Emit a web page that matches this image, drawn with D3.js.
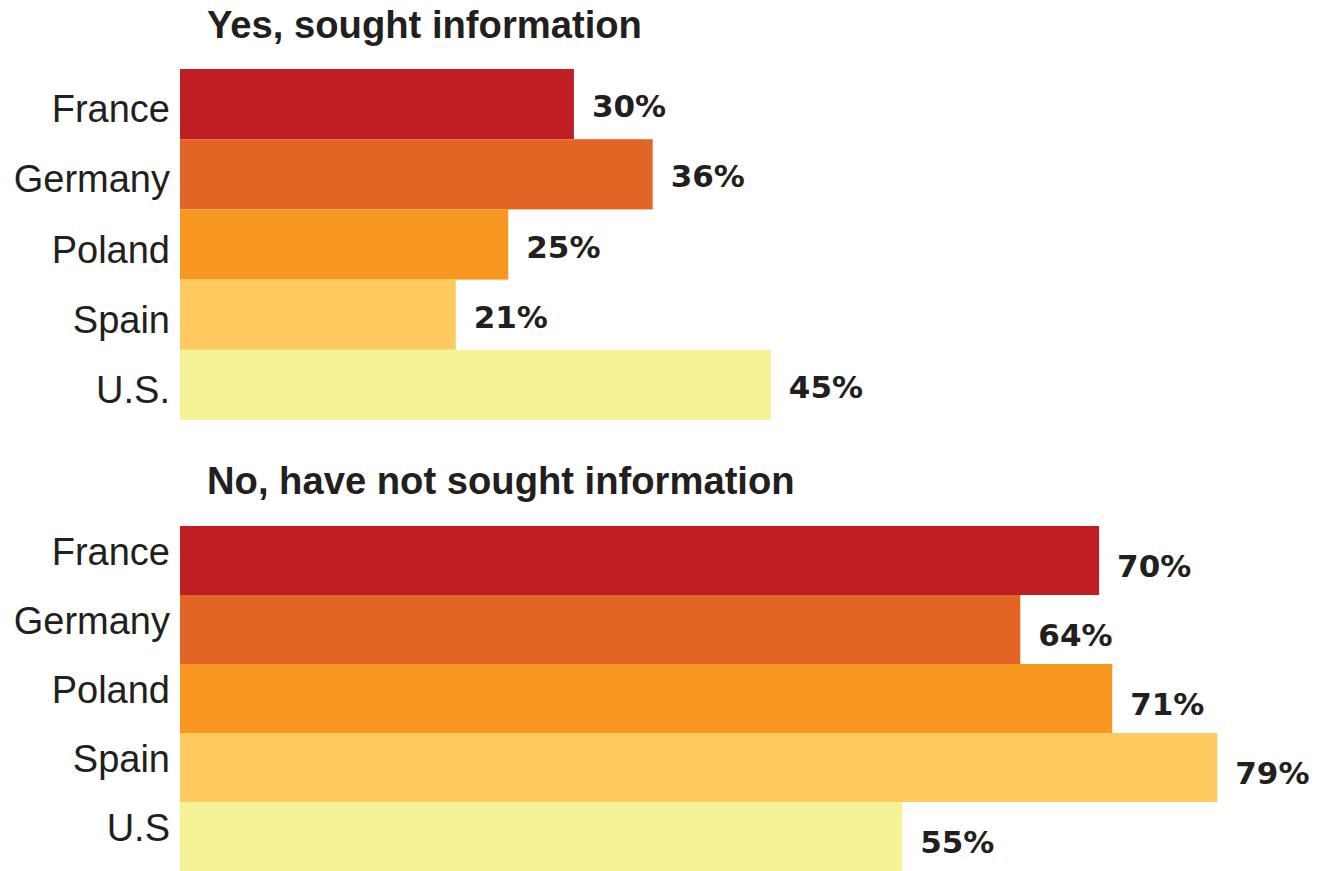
<!DOCTYPE html>
<html>
<head>
<meta charset="utf-8">
<script src="https://cdn.jsdelivr.net/npm/d3@7"></script>
<style>
  html, body { margin: 0; padding: 0; background: #ffffff; }
  svg { display: block; }
</style>
</head>
<body>
<svg id="chart" width="1317" height="871"></svg>
<script>
// Survey data: share of respondents per country
const countries = ["France", "Germany", "Poland", "Spain", "U.S."];
const countriesNo = ["France", "Germany", "Poland", "Spain", "U.S"];
const soughtYes = [30, 36, 25, 21, 45];
const soughtNo = [70, 64, 71, 79, 55];
const panelTitles = ["Yes, sought information", "No, have not sought information"];
const countryColors = ["#BE1E24", "#E36525", "#F7971F", "#FEC95F", "#F6F396"];

const svg = d3.select("#chart");
const ink = "#231F20";

// Shared horizontal scale: percent -> pixels
const x = d3.scaleLinear().domain([0, 100]).range([180, 1493]);

const panels = [
  { title: panelTitles[0], labels: countries, values: soughtYes,
    titleY: 38, top: 69, bottom: 420, catDy: 18, valDy: 13 },
  { title: panelTitles[1], labels: countriesNo, values: soughtNo,
    titleY: 494, top: 526, bottom: 871, catDy: 4, valDy: 16 }
];

const color = d3.scaleOrdinal().domain(countries.map((_, i) => i)).range(countryColors);

panels.forEach(p => {
  const g = svg.append("g");
  const rows = p.labels.map((label, i) => ({ label, value: p.values[i], i }));

  const y = d3.scaleBand()
    .domain(rows.map(d => d.i))
    .range([p.top, p.bottom])
    .paddingInner(0)
    .paddingOuter(0);

  g.append("text")
    .attr("x", 207)
    .attr("y", p.titleY)
    .attr("font-family", "Liberation Sans, Arial, sans-serif")
    .attr("font-weight", "bold")
    .attr("font-size", 38.2)
    .attr("fill", ink)
    .text(p.title);

  g.selectAll("rect.bar")
    .data(rows)
    .join("rect")
    .attr("class", "bar")
    .attr("x", x(0))
    .attr("y", d => y(d.i))
    .attr("width", d => x(d.value) - x(0))
    .attr("height", y.bandwidth())
    .attr("fill", d => color(d.i));

  g.selectAll("text.cat")
    .data(rows)
    .join("text")
    .attr("class", "cat")
    .attr("x", 170)
    .attr("y", d => y(d.i) + y.bandwidth() / 2 + p.catDy)
    .attr("text-anchor", "end")
    .attr("font-family", "Liberation Sans, Arial, sans-serif")
    .attr("font-size", 38)
    .attr("fill", ink)
    .text(d => d.label);

  g.selectAll("text.val")
    .data(rows)
    .join("text")
    .attr("class", "val")
    .attr("x", d => x(d.value) + 18)
    .attr("y", d => y(d.i) + y.bandwidth() / 2 + p.valDy)
    .attr("font-family", "DejaVu Sans, Verdana, sans-serif")
    .attr("font-weight", "bold")
    .attr("font-size", 31)
    .attr("fill", ink)
    .text(d => d.value + "%");
});
</script>
</body>
</html>
